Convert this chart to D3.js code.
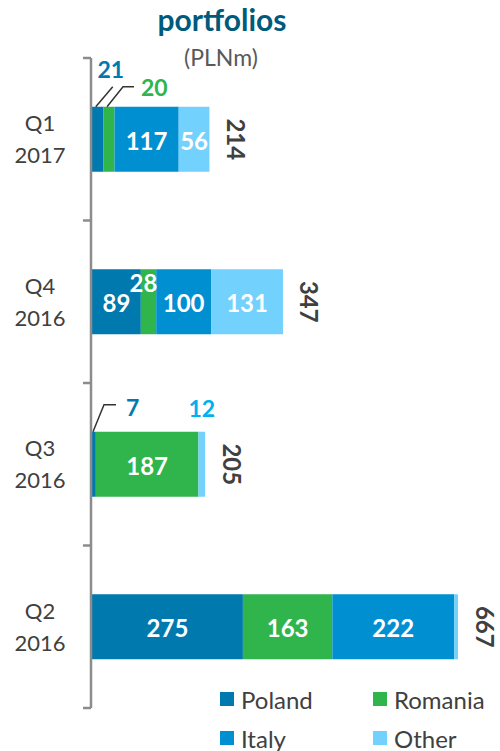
<!DOCTYPE html>
<html>
<head>
<meta charset="utf-8">
<script src="https://cdn.jsdelivr.net/npm/d3@7"></script>
<style>
  body { margin: 0; background: #fff; }
  text { font-family: Lato, 'Open Sans', sans-serif; }
</style>
</head>
<body>
<div id="chart"></div>
<script>
// quarters, top to bottom
const quarters = ['Q1 2017', 'Q4 2016', 'Q3 2016', 'Q2 2016'];
const series = ['Poland', 'Romania', 'Italy', 'Other'];
const colors = ['#0079ae', '#30b44c', '#0090d2', '#73d1fd'];

// values per series, in quarter order
const poland = [21, 89, 7, 275];
const romania = [20, 28, 187, 163];
const italy = [117, 100, 0, 222];
const other = [56, 131, 12, 7];
const totals = [214, 347, 205, 667];

const width = 500,
    height = 751;

const svg = d3.select('#chart')
    .append('svg')
    .attr('width', width)
    .attr('height', height);

const x = d3.scaleLinear().domain([0, 667]).range([92, 458]);
const y = d3.scaleBand().domain(quarters).range([58, 708]).paddingInner(0.6).paddingOuter(0.3);

// build stack rows
const rows = quarters.map((q, i) => ({
    quarter: q, Poland: poland[i], Romania: romania[i], Italy: italy[i], Other: other[i]
}));
const stacked = d3.stack().keys(series)(rows);

// title
svg.append('text')
    .attr('x', 222).attr('y', 31)
    .attr('text-anchor', 'middle')
    .attr('font-size', 30).attr('font-weight', 'bold')
    .attr('fill', '#005a7c')
    .text('portfolios');

svg.append('text')
    .attr('x', 221).attr('y', 66)
    .attr('text-anchor', 'middle')
    .attr('font-size', 23)
    .attr('fill', '#595959')
    .text('(PLNm)');

// bars
stacked.forEach((s, si) => {
    svg.append('g')
        .selectAll('rect')
        .data(s)
        .enter()
        .append('rect')
        .attr('x', d => x(d[0]))
        .attr('y', d => y(d.data.quarter))
        .attr('width', d => x(d[1]) - x(d[0]))
        .attr('height', y.bandwidth())
        .attr('fill', colors[si]);
});

// white labels inside segments (thin ones get callouts instead)
const inside = [];
stacked.forEach((s, si) => {
    s.forEach((d, qi) => {
        const v = d[1] - d[0];
        if (v >= 25) {
            inside.push({ x0: d[0], x1: d[1], v: v, q: d.data.quarter, si: si, qi: qi });
        }
    });
});

// the Q4 Romania label sits raised, as in the source
const raised = d => d.si === 1 && d.qi === 1;

svg.append('g')
    .selectAll('text')
    .data(inside)
    .enter()
    .append('text')
    .attr('x', d => (x(d.x0) + x(d.x1)) / 2 - (raised(d) ? 5 : 0))
    .attr('y', d => y(d.q) + y.bandwidth() / 2 + 1 - (raised(d) ? 20 : 0))
    .attr('text-anchor', 'middle')
    .attr('dominant-baseline', 'central')
    .attr('font-size', 24).attr('font-weight', 'bold')
    .attr('fill', '#fff')
    .text(d => d.v);

// callouts for thin segments
const callouts = [
    { si: 0, qi: 0, dx: 17, dy: -20, hx: 0, lx: -2, ly: -18, anchor: 'middle', color: colors[0] },
    { si: 1, qi: 0, dx: 16, dy: -20, hx: 11, lx: 7, ly: 0, anchor: 'start', color: colors[1] },
    { si: 0, qi: 2, dx: 11, dy: -27, hx: 12, lx: 10, ly: 2, anchor: 'start', color: colors[0] }
];

callouts.forEach(c => {
    const d = stacked[c.si][c.qi];
    const x0 = Math.max(x(d[0]) + 1, (x(d[0]) + x(d[1])) / 2 - 2);
    const y0 = y(d.data.quarter);
    const pts = [[x0, y0], [x0 + c.dx, y0 + c.dy], [x0 + c.dx + c.hx, y0 + c.dy]];
    svg.append('path')
        .attr('d', d3.line()(pts))
        .attr('fill', 'none')
        .attr('stroke', '#333')
        .attr('stroke-width', 1.5);
    const end = pts[2];
    svg.append('text')
        .attr('x', end[0] + c.lx)
        .attr('y', end[1] + c.ly)
        .attr('text-anchor', c.anchor)
        .attr('dominant-baseline', 'central')
        .attr('font-size', 23).attr('font-weight', 'bold')
        .attr('fill', c.color)
        .text(d[1] - d[0]);
});

// "12" over the Other sliver in Q3
const q3other = stacked[3][2];
svg.append('text')
    .attr('x', (x(q3other[0]) + x(q3other[1])) / 2)
    .attr('y', y(q3other.data.quarter) - 24)
    .attr('text-anchor', 'middle')
    .attr('dominant-baseline', 'central')
    .attr('font-size', 23).attr('font-weight', 'bold')
    .attr('fill', '#00b0f0')
    .text(q3other[1] - q3other[0]);

// totals, rotated
svg.append('g')
    .selectAll('text')
    .data(quarters)
    .enter()
    .append('text')
    .attr('transform', (q, i) => `translate(${x(stacked[3][i][1]) + 27},${y(q) + y.bandwidth() / 2}) rotate(90)`)
    .attr('text-anchor', 'middle')
    .attr('dominant-baseline', 'central')
    .attr('font-size', 24).attr('font-weight', 'bold')
    .attr('fill', '#404040')
    .text((q, i) => totals[i]);

// category axis
const axis = svg.append('g');
axis.append('line')
    .attr('x1', 91).attr('x2', 91)
    .attr('y1', 58).attr('y2', 708)
    .attr('stroke', '#8c8c8c').attr('stroke-width', 2.5);

const ticks = d3.range(quarters.length + 1).map(i => 58 + i * 650 / quarters.length);
axis.selectAll('.tick')
    .data(ticks)
    .enter()
    .append('line')
    .attr('x1', 83).attr('x2', 91)
    .attr('y1', d => d).attr('y2', d => d)
    .attr('stroke', '#8c8c8c').attr('stroke-width', 2.5);

axis.selectAll('.cat')
    .data(quarters)
    .enter()
    .append('text')
    .attr('text-anchor', 'middle')
    .attr('font-size', 22)
    .attr('fill', '#404040')
    .each(function (q) {
        const parts = q.split(' ');
        const cy = y(q) + y.bandwidth() / 2;
        d3.select(this).append('tspan').attr('x', 40).attr('y', cy - 8).text(parts[0]);
        d3.select(this).append('tspan').attr('x', 40).attr('y', cy + 24).text(parts[1]);
    });

// legend
const legendPos = [[220, 699], [373, 699], [220, 738], [373, 738]];
const legend = svg.append('g')
    .selectAll('g')
    .data(series)
    .enter()
    .append('g')
    .attr('transform', (s, i) => `translate(${legendPos[i][0]},${legendPos[i][1]})`);

legend.append('rect')
    .attr('x', 0).attr('y', -7)
    .attr('width', 14).attr('height', 14)
    .attr('fill', (s, i) => colors[i]);

legend.append('text')
    .attr('x', 21).attr('y', 0)
    .attr('dominant-baseline', 'central')
    .attr('font-size', 24)
    .attr('fill', '#404040')
    .text(s => s);
</script>
</body>
</html>
